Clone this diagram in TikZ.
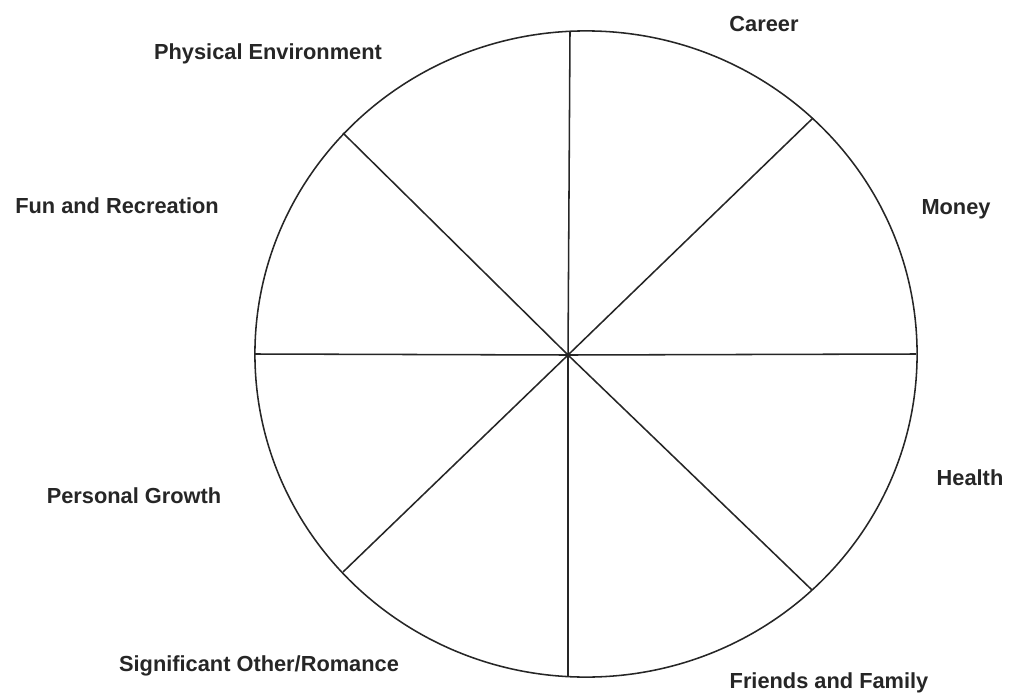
\documentclass[tikz,border=0pt]{standalone}
\usepackage{fontspec}
\setmainfont{Liberation Sans}
\usetikzlibrary{positioning}

\begin{document}
\begin{tikzpicture}[
  x=0.025cm, y=-0.025cm,
  rim/.style   = {draw=black!85, line width=1.1pt},
  spoke/.style = {draw=black!85, line width=1.1pt},
  area/.style  = {font=\fontsize{15.5}{18}\selectfont\bfseries, text=black!85, anchor=base, inner sep=0pt},
]
\useasboundingbox (0,0) rectangle (1016,696);
% wheel rim (slightly off the hub, as scanned)
\draw[rim] (586,354) ellipse [x radius=8.275cm, y radius=8.075cm];
% hub and spoke ends on the rim
\coordinate (hub) at (568,355);
\foreach \nm/\px/\py in {top/570/31, ne/813/118, east/916/354, se/812/590,
                         bot/568/677, sw/343/572, west/255/354, nw/343/133}{%
  \coordinate (\nm) at (\px,\py);
  \draw[spoke] (hub) -- (\nm);
}
% life areas
\node[area] (career)  at (764,32)  {Career};
\node[area] (money)   at (956,214) {Money};
\node[area] (health)  at (970,485) {Health};
\node[area] (friends) at (829,688) {Friends and Family};
\node[area] (romance) at (259,671) {Significant Other/Romance};
\node[area] (growth)  at (134,503) {Personal Growth};
\node[area] (fun)     at (117,213) {Fun and Recreation};
\node[area] (physenv) at (268,59)  {Physical Environment};
\end{tikzpicture}
\end{document}
